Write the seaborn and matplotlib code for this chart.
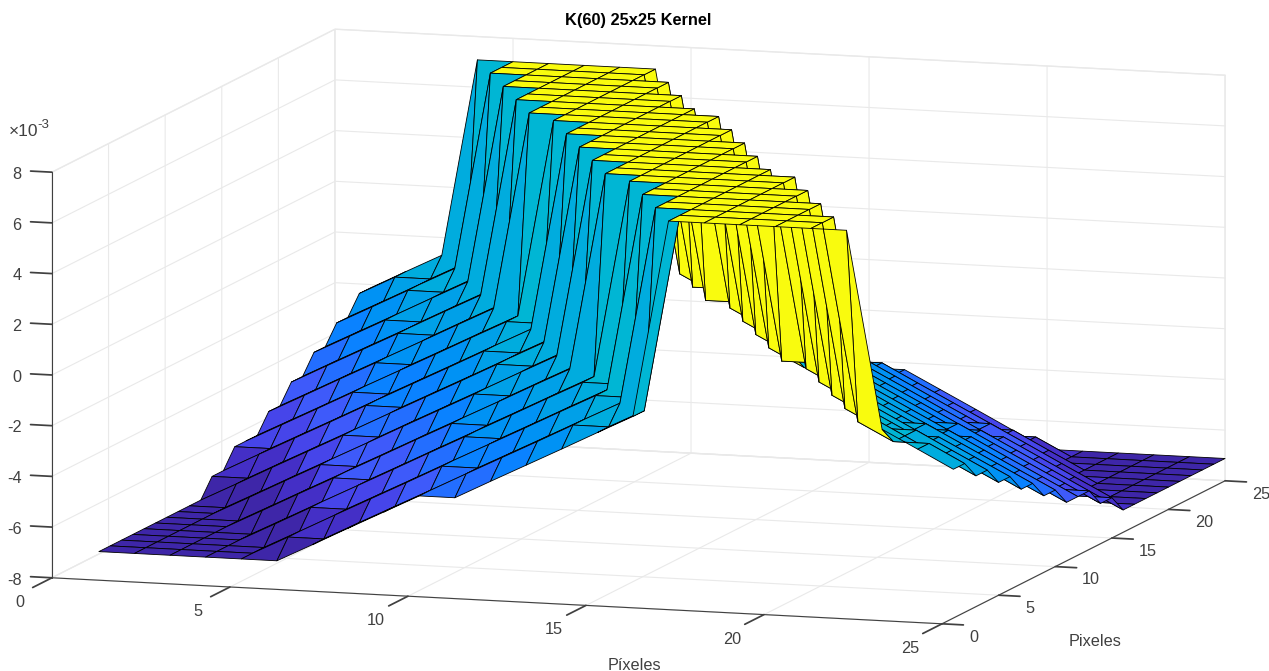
import numpy as np
import matplotlib
matplotlib.use("Agg")
import matplotlib.pyplot as plt
from matplotlib.transforms import offset_copy
import seaborn as sns

# heights of the kernel in units of 1e-3: top plateau, then the steps going down the sides
z_levels = [7.08, -0.70, -1.41, -2.13, -2.84, -3.55, -4.27, -4.98, -5.69, -6.41, -7.12]

# which step each pixel sits on, one list per row of the kernel (y = 1..25)
row_01 = [10,10,10,10,10,10,9,8,7,6,6,5,4,3,2,1,0,0,0,0,0,0,1,2,3]
row_02 = [10,10,10,10,10,9,9,8,7,6,5,4,3,2,2,1,0,0,0,0,0,1,2,2,3]
row_03 = [10,10,10,10,10,9,8,7,6,5,5,4,3,2,1,0,0,0,0,0,0,1,2,3,4]
row_04 = [10,10,10,10,9,8,8,7,6,5,4,3,2,1,1,0,0,0,0,0,1,2,2,3,4]
row_05 = [10,10,10,10,9,8,7,6,5,4,4,3,2,1,0,0,0,0,0,0,1,2,3,4,5]
row_06 = [10,10,10,9,8,7,7,6,5,4,3,2,1,1,0,0,0,0,0,1,2,3,3,4,5]
row_07 = [10,10,10,9,8,7,6,5,4,4,3,2,1,0,0,0,0,0,0,1,2,3,4,5,6]
row_08 = [10,10,9,8,7,7,6,5,4,3,2,1,0,0,0,0,0,0,1,2,3,3,4,5,6]
row_09 = [10,10,9,8,7,6,5,4,3,3,2,1,0,0,0,0,0,0,1,2,3,4,5,6,7]
row_10 = [10,9,8,7,6,6,5,4,3,2,1,0,0,0,0,0,0,1,2,3,4,4,5,6,7]
row_11 = [9,9,8,7,6,5,4,3,2,2,1,0,0,0,0,0,1,1,2,3,4,5,6,7,8]
row_12 = [9,8,7,6,5,5,4,3,2,1,0,0,0,0,0,0,1,2,3,4,5,5,6,7,8]
row_13 = [8,8,7,6,5,4,3,2,2,1,0,0,0,0,0,1,2,2,3,4,5,6,7,8,8]
row_14 = [8,7,6,5,5,4,3,2,1,0,0,0,0,0,0,1,2,3,4,5,5,6,7,8,9]
row_15 = [8,7,6,5,4,3,2,1,1,0,0,0,0,0,1,2,2,3,4,5,6,7,8,9,9]
row_16 = [7,6,5,4,4,3,2,1,0,0,0,0,0,0,1,2,3,4,5,6,6,7,8,9,10]
row_17 = [7,6,5,4,3,2,1,0,0,0,0,0,0,1,2,3,3,4,5,6,7,8,9,10,10]
row_18 = [6,5,4,3,3,2,1,0,0,0,0,0,0,1,2,3,4,5,6,7,7,8,9,10,10]
row_19 = [6,5,4,3,2,1,0,0,0,0,0,0,1,2,3,4,4,5,6,7,8,9,10,10,10]
row_20 = [5,4,3,3,2,1,0,0,0,0,0,1,1,2,3,4,5,6,7,7,8,9,10,10,10]
row_21 = [5,4,3,2,1,0,0,0,0,0,0,1,2,3,4,4,5,6,7,8,9,10,10,10,10]
row_22 = [4,3,2,2,1,0,0,0,0,0,1,1,2,3,4,5,6,7,8,8,9,10,10,10,10]
row_23 = [4,3,2,1,0,0,0,0,0,0,1,2,3,4,5,5,6,7,8,9,10,10,10,10,10]
row_24 = [3,2,2,1,0,0,0,0,0,1,2,2,3,4,5,6,7,8,9,9,10,10,10,10,10]
row_25 = [3,2,1,0,0,0,0,0,0,1,2,3,4,5,6,6,7,8,9,10,10,10,10,10,10]

pixels = list(range(1, 26))
xy_ticks = [0, 5, 10, 15, 20, 25]
z_ticks = [-8, -6, -4, -2, 0, 2, 4, 6, 8]

rows = [row_01, row_02, row_03, row_04, row_05, row_06, row_07, row_08, row_09, row_10,
        row_11, row_12, row_13, row_14, row_15, row_16, row_17, row_18, row_19, row_20,
        row_21, row_22, row_23, row_24, row_25]

sns.set_theme(style="white")
plt.rcParams["font.family"] = ["Liberation Sans", "DejaVu Sans"]
plt.rcParams["axes.unicode_minus"] = False

# parula look-alike
parula = sns.blend_palette(
    ["#3E26A8", "#4430C8", "#4646EB", "#3E5AFA", "#236EFF", "#0A82FF", "#0091F5", "#00A0E8",
     "#00ACDE", "#00B6D4", "#14BEBE", "#32C6A0", "#50C882", "#80C864", "#A0C83C", "#CCC038",
     "#F0B932", "#F8C82C", "#FAD228", "#F8E610", "#F9FB0E"],
    n_colors=256, as_cmap=True)

Z = np.array(z_levels)[np.array(rows)]
X, Y = np.meshgrid(pixels, pixels)
norm = plt.Normalize(Z.min(), Z.max())

W, H = 1269, 671
fig = plt.figure(figsize=(W / 100, H / 100), dpi=100)
ax = fig.add_subplot(projection="3d")

# square axes placed in pixels so the box lands where it does in the reference
S = 1340
ax.set_position([-49.6 / W, -343.6 / H, S / W, S / H])
ax.set_proj_type("ortho")
ax.view_init(elev=9.3, azim=-72.26)
ax.set_box_aspect((934.5, 929, 411))

ax.plot_surface(X, Y, Z, facecolors=parula(norm(Z)), rstride=1, cstride=1,
                edgecolor="black", linewidth=0.6, shade=False, antialiased=True)

ax.set_xlim(0, 25, view_margin=0)
ax.set_ylim(0, 25, view_margin=0)
ax.set_zlim(-8, 8, view_margin=0)
ax.set_xticks(xy_ticks)
ax.set_yticks(xy_ticks)
ax.set_zticks(z_ticks)
ax.tick_params(labelsize=11.7, labelcolor="#404040", color="#404040")

# z axis on the front left corner like the reference
ax.zaxis._axinfo["juggled"] = (1, 2, 0)

for axis in [ax.xaxis, ax.yaxis, ax.zaxis]:
    axis.set_pane_color((1, 1, 1, 1))
    axis.pane.set_edgecolor("#ebebeb")
    axis.line.set_color("#404040")
    axis.line.set_linewidth(0.8)
    axis._axinfo["grid"].update(color="#e9e9e9", linewidth=0.8)
ax.xaxis._axinfo["tick"].update(inward_factor=0.85, outward_factor=0)
ax.yaxis._axinfo["tick"].update(inward_factor=0.30, outward_factor=0)
ax.zaxis._axinfo["tick"].update(inward_factor=0, outward_factor=0.30)


def nudge_labels(axis, dx, dy, ha):
    # Axis3D resets set_transform on every draw, so swap the getter instead
    shifted = offset_copy(ax.transData, fig, x=dx, y=dy, units="dots")
    for tick in axis.get_major_ticks():
        tick.label1.get_transform = lambda t=shifted: t
        tick.label1.set_ha(ha)
        tick.label1.set_va("center")


nudge_labels(ax.xaxis, -25.5, -12, "center")
nudge_labels(ax.yaxis, 6.5, -3, "left")
nudge_labels(ax.zaxis, -3.5, 0, "right")

fig.text(638 / W, 1 - 21 / H, "K(60) 25x25 Kernel", ha="center", va="center",
         fontsize=11.8, fontweight="bold", color="black")
fig.text(634 / W, 1 - 665.5 / H, "Píxeles", ha="center", va="center", fontsize=11.7, color="#404040")
fig.text(1095 / W, 1 - 641 / H, "Pixeles", ha="center", va="center", fontsize=11.7, color="#404040")
fig.text(9 / W, 1 - 132 / H, "×10", ha="left", va="center", fontsize=12.5, color="#404040")
fig.text(37 / W, 1 - 125 / H, "-3", ha="left", va="center", fontsize=9.5, color="#404040")

fig.savefig("out.png", dpi=100)
